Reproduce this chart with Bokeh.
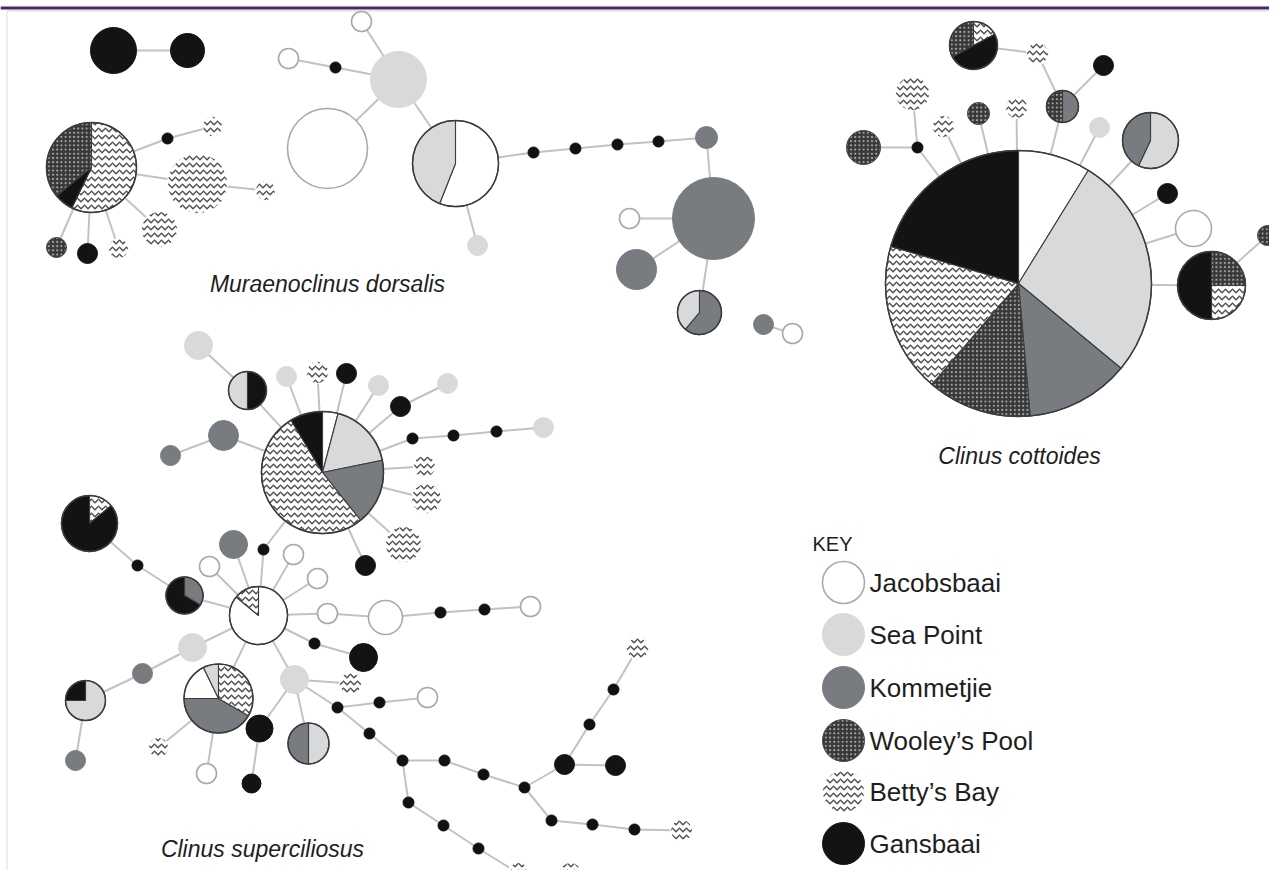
from bokeh.plotting import figure
from bokeh.models import Range1d, ColumnDataSource
from bokeh.embed import file_html
from bokeh.resources import INLINE
from bokeh.core.properties import value
import math

W, H = 1269, 870
FONT = "Liberation Sans"

# ---------------- populations ----------------
pop_keys = ["J", "SP", "K", "WP", "BB", "G"]
pop_names = ["Jacobsbaai", "Sea Point", "Kommetjie", "Wooley\u2019s Pool", "Betty\u2019s Bay", "Gansbaai"]

# ---------------- haplotype nodes (image pixel positions) ----------------
node_id = [
    # Muraenoclinus dorsalis
    "M1", "M2", "MP1", "Ma", "Mb", "Mc", "Md", "Me", "Mf", "Mg", "Mh",
    "Mi", "Mj", "Mk", "Ml", "Mm", "MP2", "Mn", "Mo", "Mp", "Mq", "Mr", "Ms", "Mt", "Mu", "Mv", "MP3", "Mw", "Mx",
    # Clinus cottoides
    "CP0", "CP1", "Ca", "Cb", "CP2", "Cc", "Cd", "Ce", "Cf", "Cg", "Ch", "Ci", "CP3", "Cj", "Ck", "CP4", "Cl",
    # Clinus superciliosus
    "SP0", "Sa", "SP1", "Sb", "Sc", "Sd", "Se", "Sf", "Sg", "Sh", "Si", "Sj", "Sk", "Sl", "Sm", "Sn", "So", "Sp", "Sq", "Sr",
    "SP2", "Ss", "SP3", "SP4", "St", "Su", "Sv", "Sw", "Sx", "Sy", "Sz", "S1", "S2", "S3", "S4", "S5", "S6", "SP5", "S7",
    "SP6", "S8", "S9", "S10", "S11", "S12", "S13", "S14", "SP7", "S15", "S16",
    "S17", "S18", "S19", "S20", "S21", "S22", "S23", "S24", "S25", "S26", "S27", "S28", "S29", "S30",
    "S31", "S32", "S33", "S34", "S35",
]
node_x = [
    113, 187, 91, 167, 212, 197, 265, 159, 56, 87, 118,
    361, 288, 335, 398, 327, 455, 477, 533, 575, 617, 658, 706, 713, 629, 636, 699, 763, 792,
    1018, 973, 1037, 1103, 1062, 912, 863, 917, 943, 978, 1016, 1099, 1150, 1167, 1193, 1211, 1267,
    322, 198, 247, 286, 317, 346, 378, 400, 447, 412, 453, 496, 543, 424, 426, 403, 365, 223, 170, 263,
    89, 137, 184, 258, 233, 209, 293, 317, 327, 385, 440, 484, 530, 314, 363, 192, 142, 85, 75,
    218, 294, 350, 337, 379, 427, 259, 251, 308, 158, 206,
    369, 402, 444, 483, 524, 564, 615, 589, 613, 637, 551, 592, 634, 681,
    408, 443, 478, 518, 570,
]
node_y = [
    50, 50, 167, 138, 126, 183, 190, 229, 247, 253, 248,
    21, 58, 67, 79, 148, 163, 245, 152, 148, 144, 141, 137, 218, 218, 269, 312, 324, 333,
    283, 45, 53, 65, 106, 93, 147, 147, 126, 113, 107, 127, 140, 193, 228, 285, 235,
    472, 345, 390, 376, 372, 373, 385, 406, 383, 438, 435, 431, 427, 466, 498, 544, 565, 435, 455, 549,
    523, 565, 595, 615, 544, 566, 554, 578, 613, 617, 612, 609, 606, 643, 657, 647, 673, 700, 760,
    698, 679, 683, 707, 702, 697, 728, 783, 743, 747, 773,
    733, 760, 760, 774, 787, 764, 765, 724, 689, 648, 820, 824, 829, 830,
    802, 825, 848, 873, 873,
]
node_r = [
    23, 17, 45, 5.5, 10, 30, 10, 18, 10, 10, 10,
    10, 10, 5.5, 28, 40, 43, 10, 5.5, 5.5, 5.5, 5.5, 11, 41, 10, 20, 22, 10, 10,
    133, 24, 11, 10, 16, 17, 17, 5.5, 11, 11, 11, 10, 28, 10, 18, 34, 10,
    61, 14, 19, 10, 11, 10, 10, 10, 10, 5.5, 5.5, 5.5, 10, 11, 15, 18, 10, 15, 10, 5.5,
    28, 5.5, 18.5, 29, 14, 10, 10, 10, 10, 17, 5.5, 5.5, 10, 5.5, 14, 14, 10, 20, 10,
    34.5, 14, 11, 5.5, 5.5, 10, 13.5, 9.5, 20.5, 10, 10,
    5.5, 5.5, 5.5, 5.5, 5.5, 10, 10, 5.5, 5.5, 11, 5.5, 5.5, 5.5, 11,
    5.5, 5.5, 5.5, 11, 11,
]
node_pop = [
    "G", "G", "pie", "dot", "BB", "BB", "BB", "BB", "WP", "G", "BB",
    "J", "J", "dot", "SP", "J", "pie", "SP", "dot", "dot", "dot", "dot", "K", "K", "J", "K", "pie", "K", "J",
    "pie", "pie", "BB", "G", "pie", "BB", "WP", "dot", "BB", "WP", "BB", "SP", "pie", "G", "J", "pie", "WP",
    "pie", "SP", "pie", "SP", "BB", "G", "SP", "G", "SP", "dot", "dot", "dot", "SP", "BB", "BB", "BB", "G", "K", "K", "dot",
    "pie", "dot", "pie", "pie", "K", "J", "J", "J", "J", "J", "dot", "dot", "J", "dot", "G", "SP", "K", "pie", "K",
    "pie", "SP", "BB", "dot", "dot", "J", "G", "G", "pie", "BB", "J",
    "dot", "dot", "dot", "dot", "dot", "G", "G", "dot", "dot", "BB", "dot", "dot", "dot", "BB",
    "dot", "dot", "dot", "BB", "BB",
]

# pie compositions: (population, percent) clockwise from 12 o'clock
pie_parts = {
    "MP1": [("BB", 57.2), ("G", 6.9), ("WP", 35.9)],
    "MP2": [("J", 56.0), ("SP", 44.0)],
    "MP3": [("K", 61.0), ("SP", 39.0)],
    "CP0": [("J", 8.8), ("SP", 27.2), ("K", 12.6), ("WP", 12.7), ("BB", 18.2), ("G", 20.5)],
    "CP1": [("BB", 17.3), ("G", 49.6), ("WP", 33.1)],
    "CP2": [("K", 50.0), ("WP", 50.0)],
    "CP3": [("SP", 57.0), ("K", 43.0)],
    "CP4": [("WP", 25.0), ("BB", 25.0), ("G", 50.0)],
    "SP0": [("J", 4.1), ("SP", 17.7), ("K", 17.5), ("BB", 52.1), ("G", 8.6)],
    "SP1": [("G", 50.0), ("SP", 50.0)],
    "SP2": [("BB", 14.0), ("G", 86.0)],
    "SP3": [("K", 33.6), ("G", 66.4)],
    "SP4": [("J", 86.0), ("BB", 14.0)],
    "SP5": [("SP", 75.0), ("G", 25.0)],
    "SP6": [("BB", 33.3), ("K", 41.7), ("J", 17.8), ("SP", 7.2)],
    "SP7": [("SP", 50.0), ("K", 50.0)],
}

# mutational links
edge_from = [
    "M1", "MP1", "Ma", "MP1", "Mc", "MP1", "MP1", "MP1", "MP1",
    "Mj", "Mk", "Mi", "Ml", "Ml", "MP2", "MP2", "Mo", "Mp", "Mq", "Mr", "Ms", "Mt", "Mt", "Mt", "Mw",
    "CP1", "Ca", "Cb", "CP2", "Cc", "Cd", "Ce", "Cf", "Cg", "Ch", "Ci", "CP3", "Cj", "Ck", "CP4", "CP4",
    "Sa", "SP1", "Sb", "Sc", "Sd", "Se", "Sf", "Sf", "SP0", "Sh", "Si", "Sj", "Sl", "Sm", "Sn", "So", "Sp", "Sp", "SP0", "Sr",
    "SP2", "Ss", "SP3", "St", "Su", "Sv", "Sw", "SP4", "Sx", "Sy", "Sz", "S1", "SP4", "S3", "SP4", "S5", "S6", "SP5",
    "SP4", "SP4", "S8", "S8", "S10", "S11", "S8", "S13", "S8", "SP6", "SP6",
    "S10", "S17", "S18", "S19", "S20", "S21", "S22", "S22", "S24", "S25", "S21", "S27", "S28", "S29",
    "S18", "S31", "S32", "S33", "S34",
]
edge_to = [
    "M2", "Ma", "Mb", "Mc", "Md", "Me", "Mf", "Mg", "Mh",
    "Mk", "Ml", "Ml", "Mm", "MP2", "Mn", "Mo", "Mp", "Mq", "Mr", "Ms", "Mt", "Mu", "Mv", "MP3", "Mx",
    "Ca", "CP2", "CP2", "CP0", "Ce", "Ce", "CP0", "CP0", "CP0", "CP0", "CP0", "CP0", "CP0", "CP0", "CP0", "Cl",
    "SP1", "SP0", "SP0", "SP0", "SP0", "SP0", "SP0", "Sg", "Sh", "Si", "Sj", "Sk", "SP0", "SP0", "SP0", "SP0", "SP0", "Sq", "Sr", "SP4",
    "Ss", "SP3", "SP4", "SP4", "SP4", "SP4", "SP4", "Sx", "Sy", "Sz", "S1", "S2", "S3", "S4", "S5", "S6", "SP5", "S7",
    "SP6", "S8", "S9", "S10", "S11", "S12", "S13", "S14", "SP7", "S15", "S16",
    "S17", "S18", "S19", "S20", "S21", "S22", "S23", "S24", "S25", "S26", "S27", "S28", "S29", "S30",
    "S31", "S32", "S33", "S34", "S35",
]

# species labels
label_text = ["Muraenoclinus dorsalis", "Clinus cottoides", "Clinus superciliosus"]
label_x = [327, 1019, 262]
label_y = [283, 455, 848]

# legend
key_y = [582, 634, 687, 740, 791, 843]
key_x = 843
key_r = 21

# ---------------- styles ----------------
style = {
    "J":  dict(fill_color="white", line_color="#a9a9a9", line_width=1.6),
    "SP": dict(fill_color="#d8d9db", line_color="#d8d9db", line_width=1),
    "K":  dict(fill_color="#787b7f", line_color="#787b7f", line_width=1),
    "WP": dict(fill_color="#383838", line_color="#444444", line_width=1,
               hatch_pattern="dot", hatch_color="#a8a8a8", hatch_scale=4.2, hatch_weight=1.6),
    "BB": dict(fill_color="white", line_color="white", line_width=1,
               hatch_pattern="horizontal_wave", hatch_color="#505050", hatch_scale=7, hatch_weight=1.5),
    "G":  dict(fill_color="#131313", line_color="#131313", line_width=1),
}

idx = {n: i for i, n in enumerate(node_id)}

p = figure(width=W, height=H, x_range=Range1d(0, W), y_range=Range1d(-H, 0),
           output_backend="svg", toolbar_location=None, x_axis_type=None, y_axis_type=None,
           min_border=0)
p.grid.visible = False
p.outline_line_color = None
p.background_fill_color = "white"
p.border_fill_color = "white"

# frame decoration
p.segment(x0=[0], y0=[-7.5], x1=[W], y1=[-7.5], line_color="#4b2768", line_width=2.8)
p.segment(x0=[6.5], y0=[-10.5], x1=[W], y1=[-10.5], line_color="#d4d4d4", line_width=1.2)
p.segment(x0=[6.5], y0=[-10.5], x1=[6.5], y1=[-H], line_color="#e2e2e2", line_width=1.2)

# edges
ex0 = [node_x[idx[a]] for a in edge_from]
ey0 = [-node_y[idx[a]] for a in edge_from]
ex1 = [node_x[idx[b]] for b in edge_to]
ey1 = [-node_y[idx[b]] for b in edge_to]
p.segment(x0=ex0, y0=ey0, x1=ex1, y1=ey1, line_color="#c2c2c2", line_width=2)

# single-population nodes
for k in pop_keys:
    sel = [i for i, pp in enumerate(node_pop) if pp == k]
    src = ColumnDataSource(dict(x=[node_x[i] for i in sel], y=[-node_y[i] for i in sel],
                                r=[node_r[i] for i in sel]))
    p.circle("x", "y", radius="r", source=src, **style[k])

# median vectors
sel = [i for i, pp in enumerate(node_pop) if pp == "dot"]
p.circle([node_x[i] for i in sel], [-node_y[i] for i in sel], radius=[node_r[i] for i in sel],
         fill_color="#111111", line_color="#111111")

# pies
wedges = {k: dict(x=[], y=[], r=[], a0=[], a1=[]) for k in pop_keys}
for nid, parts in pie_parts.items():
    i = idx[nid]
    a = 90.0
    for k, pct in parts:
        b = a - pct * 3.6
        w = wedges[k]
        w["x"].append(node_x[i]); w["y"].append(-node_y[i]); w["r"].append(node_r[i])
        w["a0"].append(math.radians(b)); w["a1"].append(math.radians(a))
        a = b
for k in pop_keys:
    st = dict(style[k])
    st["line_color"] = "#3c3c3c"
    st["line_width"] = 1.1
    p.wedge("x", "y", radius="r", start_angle="a0", end_angle="a1", direction="anticlock",
            source=ColumnDataSource(wedges[k]), **st)
pies = [idx[n] for n in pie_parts]
p.circle([node_x[i] for i in pies], [-node_y[i] for i in pies], radius=[node_r[i] for i in pies],
         fill_color=None, line_color="#3c3c3c", line_width=1.5)

# species labels
p.text(label_x, [-v for v in label_y], text=label_text, text_font=value(FONT), text_font_style="italic",
       text_font_size="23px", text_color="#1e1e1e", text_align="center", text_baseline="middle")

# legend
p.text([812], [-543], text=["KEY"], text_font=value(FONT), text_font_size="20px",
       text_color="#1e1e1e", text_align="left", text_baseline="middle")
for k, yy in zip(pop_keys, key_y):
    p.circle([key_x], [-yy], radius=key_r, **style[k])
p.text([869] * 6, [-v for v in key_y], text=pop_names, text_font=value(FONT), text_font_size="26px",
       text_color="#1e1e1e", text_align="left", text_baseline="middle")

open("out.html", "w").write(file_html(p, INLINE))
